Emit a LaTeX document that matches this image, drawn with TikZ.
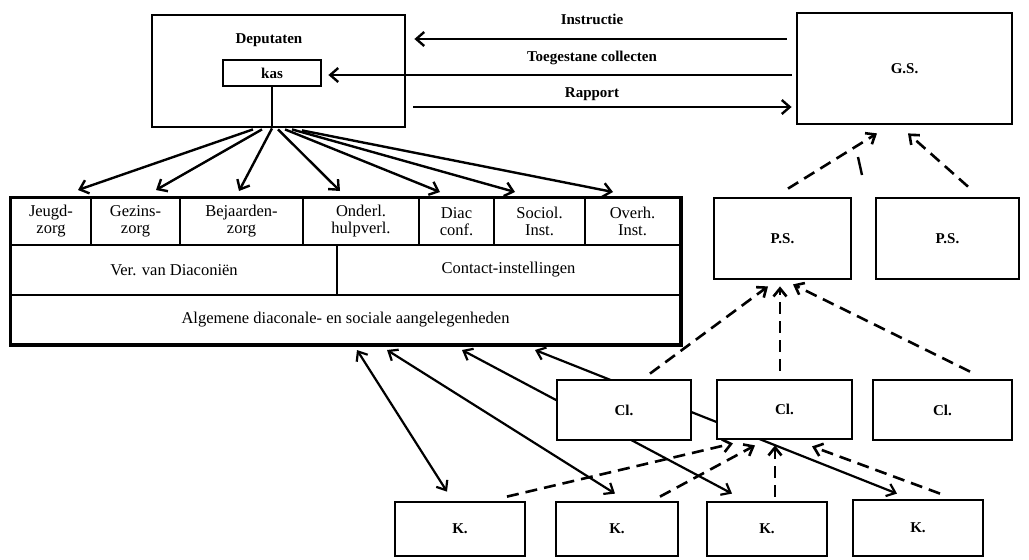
\documentclass[tikz,border=0pt]{standalone}
\usepackage{fontspec}
\setmainfont{Liberation Serif}
\usetikzlibrary{arrows.meta,calc}
\begin{document}
\begin{tikzpicture}[x=1pt,y=-1pt,
  box/.style={draw, line width=2.8pt, rectangle, inner sep=0pt, fill=white, font=\fontsize{15}{17}\selectfont\bfseries},
  cell/.style={draw, line width=2pt, rectangle, inner sep=0pt, align=center, font=\fontsize{16.5}{17}\selectfont},
  arr/.style={line width=2.4pt, -{Straight Barb[length=8pt,width=14pt]}},
  darr/.style={line width=2.2pt, {Straight Barb[length=8pt,width=13pt]}-{Straight Barb[length=8pt,width=13pt]}},
  dsh/.style={line width=2.6pt, dash pattern=on 12pt off 7pt, -{Straight Barb[length=8pt,width=13pt]}},
  lab/.style={font=\fontsize{15}{17}\selectfont\bfseries},
  plain/.style={line width=2.4pt}
]
\useasboundingbox (0,0) rectangle (1029,560);

% top boxes
\node[box, minimum width=253pt, minimum height=112pt] (dep) at (278.5,71) {};
\node[lab] (deptxt) at (269,40) {Deputaten};
\node[box, minimum width=98pt, minimum height=26pt] (kas) at (272,73) {kas};
\node[box, minimum width=215pt, minimum height=111pt] (gs) at (904.5,68.5) {G.S.};
\node[box, minimum width=137pt, minimum height=81pt] (ps1) at (782.5,238.5) {P.S.};
\node[box, minimum width=143pt, minimum height=81pt] (ps2) at (947.5,238.5) {P.S.};

% labels between Deputaten and G.S.
\node[lab] (l1) at (592,19) {Instructie};
\node[lab] (l2) at (592,58) {Toegestane collecten};
\node[lab] (l3) at (592,94) {Rapport};

\draw[arr] ($(gs.west)+(-9,-29.5)$) -- ($(dep.east)+(8,-32)$);
\draw[arr] ($(gs.west)+(-4,6.5)$) -- ($(kas.east)+(6,2)$);
\draw[arr] ($(dep.east)+(7,36)$) -- ($(gs.west)+(-4,38.5)$);

% table
\node[cell, minimum width=80pt, minimum height=47pt] (c1) at (51,221.5) {Jeugd-\\zorg};
\node[cell, minimum width=89pt, minimum height=47pt] (c2) at (135.5,221.5) {Gezins-\\zorg};
\node[cell, minimum width=123pt, minimum height=47pt] (c3) at (241.5,221.5) {Bejaarden-\\zorg};
\node[cell, minimum width=116pt, minimum height=47pt] (c4) at (361,221.5) {Onderl.\\hulpverl.};
\node[cell, minimum width=75pt, minimum height=47pt] (c5) at (456.5,221.5) {Diac\\conf.};
\node[cell, minimum width=91pt, minimum height=47pt] (c6) at (539.5,221.5) {Sociol.\\Inst.};
\node[cell, minimum width=95pt, minimum height=47pt] (c7) at (632.5,221.5) {Overh.\\Inst.};
\node[cell, minimum width=326pt, minimum height=50pt] (v1) at (174,270) {Ver. van Diaconiën};
\node[cell, minimum width=343pt, minimum height=50pt] (v2) at (508.5,270) {Contact-instellingen};
\node[cell, minimum width=669pt, minimum height=49pt] (alg) at (345.5,319.5) {Algemene diaconale- en sociale aangelegenheden};
\draw[line width=3pt] (c1.north west) rectangle (alg.south east);

% kas line and fan
\draw[plain] (kas.south) -- (kas.south |- dep.south);
\draw[arr] ($(dep.south)+(-25.5,1)$) -- ($(c1.north)+(27,-7)$);
\draw[arr] ($(dep.south)+(-16.5,1)$) -- ($(c2.north)+(20.5,-7)$);
\draw[arr] ($(dep.south)+(-6.5,0)$) -- ($(c3.north)+(-2.5,-6)$);
\draw[arr] ($(dep.south)+(-0.5,1)$) -- ($(c4.north)+(-21,-6)$);
\draw[arr] ($(dep.south)+(6.5,1)$) -- ($(c5.north)+(-16.5,-5)$);
\draw[arr] ($(dep.south)+(13.5,1)$) -- ($(c6.north)+(-24.5,-5)$);
\draw[arr] ($(dep.south)+(23.5,2)$) -- ($(c7.north)+(-19.5,-5)$);

% K boxes
\node[box, minimum width=130pt, minimum height=54pt] (k1) at (460,529) {K.};
\node[box, minimum width=122pt, minimum height=54pt] (k2) at (617,529) {K.};
\node[box, minimum width=120pt, minimum height=54pt] (k3) at (767,529) {K.};
\node[box, minimum width=130pt, minimum height=56pt] (k4) at (918,528) {K.};

% table <-> K
\draw[darr] ($(alg.south)+(11.5,5)$) -- ($(k1.north)+(-13,-9)$);
\draw[darr] ($(alg.south)+(41.5,5)$) -- ($(k2.north)+(-2,-7)$);
\draw[darr] ($(alg.south)+(116.5,5)$) -- ($(k3.north)+(-35,-7)$);
\draw[darr] ($(alg.south)+(189.5,5)$) -- ($(k4.north)+(-21,-5)$);

% Cl boxes (on top of the lines)
\node[box, minimum width=134pt, minimum height=60pt] (cl1) at (624,410) {Cl.};
\node[box, minimum width=135pt, minimum height=59pt] (cl2) at (784.5,409.5) {Cl.};
\node[box, minimum width=139pt, minimum height=60pt] (cl3) at (942.5,410) {Cl.};

% dashed hierarchy
\draw[dsh] ($(ps1.north)+(5.5,-8)$) -- ($(gs.south)+(-27.5,8)$);
\draw[dsh] ($(ps2.north)+(20.5,-10)$) -- ($(gs.south)+(3.5,8)$);
\draw[plain] (858,157) -- (862,175);
\draw[dsh] ($(cl1.north)+(26,-5)$) -- ($(ps1.south)+(-14.5,6)$);
\draw[dsh] ($(cl2.north)+(-4.5,-8)$) -- ($(ps1.south)+(-2.5,6)$);
\draw[dsh] ($(cl3.north)+(27.5,-7)$) -- ($(ps1.south)+(10.5,4)$);
\draw[dsh] ($(k1.north)+(47,-4)$) -- ($(cl2.south)+(-51.5,3)$);
\draw[dsh] ($(k2.north)+(43,-4)$) -- ($(cl2.south)+(-29.5,5)$);
\draw[dsh] ($(k3.north)+(8,-4)$) -- ($(cl2.south)+(-9.5,5)$);
\draw[dsh] ($(k4.north)+(22,-5)$) -- ($(cl2.south)+(27.5,6)$);
\end{tikzpicture}
\end{document}
